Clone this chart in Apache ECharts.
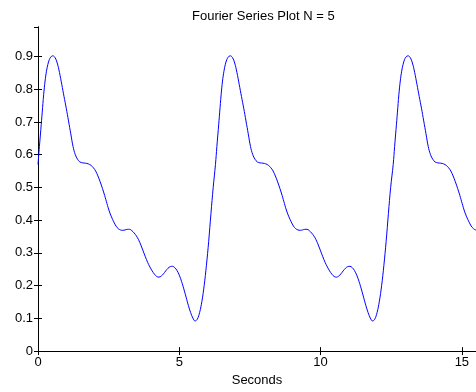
<!DOCTYPE html>
<html>
<head>
<meta charset="utf-8">
<style>
html,body{margin:0;padding:0;background:#fff;}
#chart{width:476px;height:392px;}
</style>
<script src="https://cdn.jsdelivr.net/npm/echarts@6/dist/echarts.min.js"></script>
</head>
<body>
<div id="chart"></div>
<script>
// Sample times (seconds) for each period of the plotted curve
const secondsPeriod1 = [0,0.05,0.10,0.15,0.20,0.25,0.30,0.35,0.40,0.45,0.52,0.60,0.68,0.76,0.84,0.92,1.00,1.08,1.16,1.24,1.32,1.40,1.48,1.58,1.68,1.78,1.88,1.96,2.04,2.12,2.20,2.28,2.36,2.44,2.52,2.60,2.68,2.76,2.84,2.92,3.00,3.08,3.16,3.24,3.32,3.40,3.48,3.56,3.64,3.72,3.80,3.88,3.96,4.04,4.12,4.20,4.28,4.36,4.44,4.52,4.60,4.68,4.76,4.84,4.92,5.00,5.08,5.16,5.24,5.32,5.40,5.48,5.56,5.64,5.72,5.80,5.88,5.96,6.04,6.12,6.20];
const secondsPeriod2 = [6.28,6.33,6.38,6.43,6.48,6.53,6.58,6.63,6.68,6.73,6.80,6.88,6.96,7.04,7.12,7.20,7.28,7.36,7.44,7.52,7.60,7.68,7.76,7.86,7.96,8.06,8.16,8.24,8.32,8.40,8.48,8.56,8.64,8.72,8.80,8.88,8.96,9.04,9.12,9.20,9.28,9.36,9.44,9.52,9.60,9.68,9.76,9.84,9.92,10.00,10.08,10.16,10.24,10.32,10.40,10.48,10.56,10.64,10.72,10.80,10.88,10.96,11.04,11.12,11.20,11.28,11.36,11.44,11.52,11.60,11.68,11.76,11.84,11.92,12.00,12.08,12.16,12.24,12.32,12.40,12.48];
const secondsPeriod3 = [12.57,12.62,12.67,12.72,12.77,12.82,12.87,12.92,12.97,13.02,13.09,13.17,13.25,13.33,13.41,13.49,13.57,13.65,13.73,13.81,13.89,13.97,14.05,14.15,14.25,14.35,14.45,14.53,14.61,14.69,14.77,14.85,14.93,15.01,15.09,15.17,15.25,15.33,15.41,15.49,15.57];
// Curve values (the periods repeat)
const periodValues = [0.57,0.625,0.677,0.73,0.783,0.825,0.855,0.876,0.890,0.898,0.902,0.897,0.880,0.851,0.815,0.778,0.742,0.703,0.664,0.625,0.600,0.586,0.578,0.575,0.574,0.572,0.567,0.560,0.550,0.535,0.517,0.497,0.475,0.451,0.428,0.410,0.395,0.382,0.374,0.370,0.369,0.370,0.372,0.372,0.368,0.361,0.352,0.340,0.324,0.306,0.288,0.271,0.257,0.245,0.235,0.228,0.226,0.229,0.236,0.245,0.253,0.258,0.259,0.255,0.246,0.232,0.213,0.190,0.165,0.140,0.118,0.101,0.092,0.098,0.118,0.152,0.200,0.262,0.335,0.420,0.500];
const xTicks = [0, 5, 10, 15];
const yTicks = [0, 0.1, 0.2, 0.3, 0.4, 0.5, 0.6, 0.7, 0.8, 0.9];
const titleText = 'Fourier Series Plot N = 5';
const xName = 'Seconds';

const data = [];
[secondsPeriod1, secondsPeriod2, secondsPeriod3].forEach(function (sec) {
  sec.forEach(function (t, i) { data.push([t, periodValues[i]]); });
});

const font = 'Liberation Sans, Arial, Helvetica, sans-serif';
const axisCommon = {
  axisLine: { show: true, lineStyle: { color: '#000', width: 1 } },
  axisTick: { show: true, inside: true, length: 4, lineStyle: { color: '#000' } },
  splitLine: { show: false }
};

const chart = echarts.init(document.getElementById('chart'), null, { renderer: 'canvas' });
chart.setOption({
  animation: false,
  backgroundColor: '#fff',
  title: {
    text: titleText,
    left: 187, top: 5,
    textStyle: { fontFamily: font, fontSize: 13, fontWeight: 'normal', color: '#000' }
  },
  grid: { left: 38, top: 27, bottom: 35, right: -4, containLabel: false },
  xAxis: [
    Object.assign({
      type: 'value', min: 0, max: 15.5, interval: 5, position: 'bottom',
      name: xName, nameLocation: 'middle', nameGap: 20,
      nameTextStyle: { fontFamily: font, fontSize: 13, color: '#000' },
      axisLabel: {
        fontFamily: font, fontSize: 13, color: '#000', margin: 5,
        showMaxLabel: false,
        formatter: function (v) { return xTicks.indexOf(v) >= 0 ? String(v) : ''; }
      }
    }, axisCommon),
    Object.assign({
      type: 'value', min: 0, max: 15.5, interval: 5, position: 'top',
      axisLabel: { show: false }
    }, axisCommon)
  ],
  yAxis: [
    Object.assign({
      type: 'value', min: 0, max: 0.99, interval: 0.1, position: 'left',
      axisLabel: {
        fontFamily: font, fontSize: 13, color: '#000', margin: 5,
        showMaxLabel: false,
        formatter: function (v) {
          const r = Math.round(v * 10) / 10;
          return yTicks.indexOf(r) >= 0 && Math.abs(v - r) < 1e-6 ? String(r) : '';
        }
      }
    }, axisCommon),
    Object.assign({
      type: 'value', min: 0, max: 0.99, interval: 0.1, position: 'right',
      axisLabel: { show: false }
    }, axisCommon)
  ],
  series: [{
    type: 'line',
    data: data,
    xAxisIndex: 0, yAxisIndex: 0,
    smooth: 0.4,
    showSymbol: false,
    clip: true,
    lineStyle: { color: '#0000ff', width: 1 },
    itemStyle: { color: '#0000ff' }
  }]
});
</script>
</body>
</html>
